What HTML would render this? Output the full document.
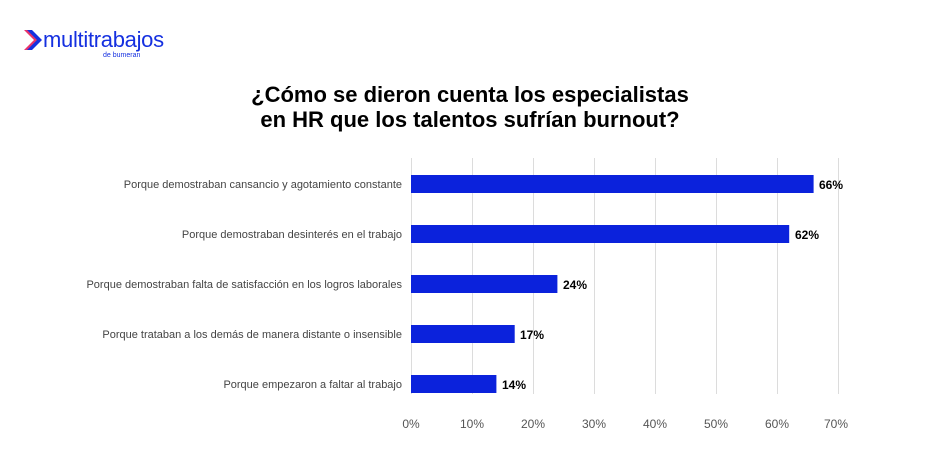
<!DOCTYPE html>
<html><head><meta charset="utf-8"><style>
body{margin:0;background:#fff;width:941px;height:458px;overflow:hidden;font-family:"Liberation Sans",Arial,sans-serif}
</style></head><body>
<svg width="941" height="458" xmlns="http://www.w3.org/2000/svg" font-family="Liberation Sans, Arial, sans-serif">
<path d="M24 30 L34 40 L24 50 L29 50 L39 40 L29 30 Z" fill="#e8336b"/>
<path d="M27 30 L37 40 L27 50 L32 50 L42 40 L32 30 Z" fill="#1530e0"/>
<text x="43" y="47" font-size="22" fill="#1530e0" letter-spacing="-0.3">multitrabajos</text>
<text x="103" y="57" font-size="7" fill="#1530e0">de bumeran</text>
<text x="470" y="102" font-size="22" font-weight="bold" text-anchor="middle" fill="#000">¿Cómo se dieron cuenta los especialistas</text>
<text x="470" y="127" font-size="22" font-weight="bold" text-anchor="middle" fill="#000">en HR que los talentos sufrían burnout?</text>
<g stroke="#dcdcdc" stroke-width="1">
<line x1="411.5" y1="158" x2="411.5" y2="394"/><line x1="472.5" y1="158" x2="472.5" y2="394"/>
<line x1="533.5" y1="158" x2="533.5" y2="394"/><line x1="594.5" y1="158" x2="594.5" y2="394"/>
<line x1="655.5" y1="158" x2="655.5" y2="394"/><line x1="716.5" y1="158" x2="716.5" y2="394"/>
<line x1="777.5" y1="158" x2="777.5" y2="394"/><line x1="838.5" y1="158" x2="838.5" y2="394"/>
</g>
<g fill="#0b22dc">
<rect x="411" y="175" width="402.6" height="18"/>
<rect x="411" y="225" width="378.2" height="18"/>
<rect x="411" y="275" width="146.4" height="18"/>
<rect x="411" y="325" width="103.7" height="18"/>
<rect x="411" y="375" width="85.4" height="18"/>
</g>
<g font-size="12" font-weight="bold" fill="#000">
<text x="819" y="189">66%</text><text x="795" y="239">62%</text><text x="563" y="289">24%</text><text x="520" y="339">17%</text><text x="502" y="389">14%</text>
</g>
<g font-size="11" fill="#444" text-anchor="end">
<text x="402" y="188">Porque demostraban cansancio y agotamiento constante</text>
<text x="402" y="238">Porque demostraban desinterés en el trabajo</text>
<text x="402" y="288">Porque demostraban falta de satisfacción en los logros laborales</text>
<text x="402" y="338">Porque trataban a los demás de manera distante o insensible</text>
<text x="402" y="388">Porque empezaron a faltar al trabajo</text>
</g>
<g font-size="12" fill="#555" text-anchor="middle">
<text x="411" y="428">0%</text><text x="472" y="428">10%</text><text x="533" y="428">20%</text><text x="594" y="428">30%</text>
<text x="655" y="428">40%</text><text x="716" y="428">50%</text><text x="777" y="428">60%</text><text x="836" y="428">70%</text>
</g>
</svg>
</body></html>
